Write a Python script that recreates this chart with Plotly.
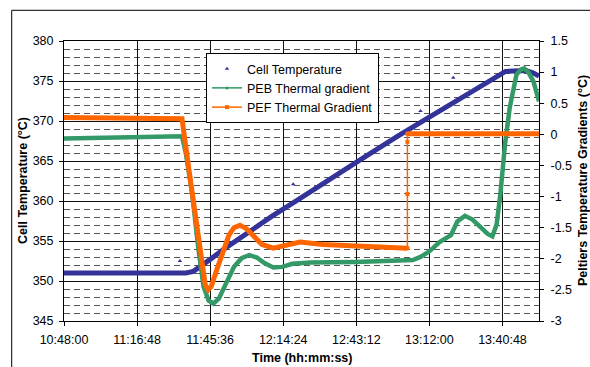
import pandas as pd
import plotly.graph_objects as go

DAY = "2000-01-01 "

# ---- data ----
cell_time = ["10:48:00", "11:20:00", "11:36:00", "11:39:00", "11:42:00", "11:45:36",
             "11:52:00", "12:00:00", "12:10:00", "12:20:00", "12:30:00", "12:43:00",
             "13:00:00", "13:12:00", "13:25:00", "13:38:00", "13:42:00", "13:50:00",
             "13:53:00", "13:55:12"]
cell_temp = [351.0, 351.0, 351.0, 351.2, 351.8, 352.7,
             354.2, 356.0, 358.1, 360.1, 362.2, 364.8,
             368.2, 370.5, 373.1, 375.6, 376.2, 376.3,
             376.0, 375.6]

cell_out_time = ["11:33:40", "12:18:20", "13:08:30", "13:21:25"]
cell_out_temp = [352.5, 362.1, 371.25, 375.4]

peb_time = ["10:48:00", "11:10:00", "11:34:30", "11:36:00", "11:38:30", "11:41:00",
            "11:43:00", "11:45:00", "11:46:50", "11:49:00", "11:52:00", "11:55:00",
            "11:58:00", "12:01:00", "12:04:00", "12:07:00", "12:10:30", "12:14:00",
            "12:18:00", "12:25:00", "12:43:00", "13:00:00", "13:05:30", "13:08:30",
            "13:12:00", "13:16:00", "13:19:00", "13:20:30", "13:23:00", "13:26:00",
            "13:29:00", "13:32:00", "13:35:00", "13:36:50", "13:38:30", "13:40:00",
            "13:41:50", "13:43:40", "13:46:20", "13:48:00", "13:49:20", "13:51:00",
            "13:53:00", "13:55:12"]
peb_val = [-0.065, -0.05, -0.03, -0.3, -0.95, -1.85,
           -2.45, -2.67, -2.72, -2.64, -2.38, -2.13,
           -1.99, -1.94, -1.98, -2.07, -2.14, -2.13,
           -2.08, -2.06, -2.05, -2.04, -2.02, -1.97,
           -1.88, -1.73, -1.66, -1.62, -1.40, -1.31,
           -1.37, -1.49, -1.60, -1.64, -1.45, -0.95,
           -0.15, 0.43, 0.96, 1.04, 1.06, 1.00,
           0.85, 0.53]

pef_time = ["10:48:00", "11:10:00", "11:34:30", "11:37:00", "11:40:00", "11:42:20",
            "11:43:40", "11:44:50", "11:46:00", "11:48:00", "11:50:00", "11:53:00",
            "11:55:00", "11:57:20", "12:00:00", "12:03:00", "12:06:00", "12:10:30",
            "12:15:00", "12:19:00", "12:21:00", "12:30:00", "12:43:00", "13:03:20",
            None, "13:03:20", "13:55:12"]
pef_val = [0.27, 0.26, 0.25, -0.5, -1.35, -2.1,
           -2.42, -2.50, -2.45, -2.2, -1.95, -1.62,
           -1.50, -1.46, -1.52, -1.66, -1.77, -1.83,
           -1.79, -1.74, -1.73, -1.77, -1.80, -1.83,
           None, 0.01, 0.01]

pef_step_time = ["13:03:20", "13:03:20", "13:03:20", "13:03:20"]
pef_step_val = [-1.83, -0.96, -0.12, 0.01]

x_start, x_end = "10:48:00", "13:55:12"
left_range = [345, 380]
right_range = [-3, 1.5]
right_tick_vals = [1.5, 1, 0.5, 0, -0.5, -1, -1.5, -2, -2.5, -3]
right_tick_text = ["1.5", "1", "0.5", "0", "-0.5", "-1", "-1.5", "-2", "-2.5", "-3"]


def to_dt(ts):
    return [None if t is None else pd.Timestamp(DAY + t) for t in ts]


BLUE = "#333399"
GREEN = "#339966"
ORANGE = "#FF6600"
FONT = "Liberation Sans, Arial, sans-serif"
FS = 12.5

fig = go.Figure()

# Cell temperature (left axis)
fig.add_trace(go.Scatter(x=to_dt(cell_time), y=cell_temp, mode="lines",
                         line=dict(color=BLUE, width=5), showlegend=False,
                         yaxis="y"))
fig.add_trace(go.Scatter(x=to_dt(cell_out_time), y=cell_out_temp, mode="markers",
                         marker=dict(symbol="triangle-up", size=4, color=BLUE),
                         name="Cell Temperature", legendrank=1, yaxis="y"))

# PEB (right axis)
fig.add_trace(go.Scatter(x=to_dt(peb_time), y=peb_val, mode="lines",
                         line=dict(color=GREEN, width=4.5), showlegend=False,
                         yaxis="y2"))
fig.add_trace(go.Scatter(x=[None], y=[None], mode="lines+markers",
                         line=dict(color=GREEN, width=1.5),
                         marker=dict(symbol="circle", size=3, color=GREEN),
                         name="PEB Thermal gradient", legendrank=2, yaxis="y2"))

# PEF (right axis)
fig.add_trace(go.Scatter(x=to_dt(pef_time), y=pef_val, mode="lines",
                         line=dict(color=ORANGE, width=5), showlegend=False,
                         connectgaps=False, yaxis="y2"))
fig.add_trace(go.Scatter(x=to_dt(pef_step_time), y=pef_step_val, mode="lines+markers",
                         line=dict(color=ORANGE, width=1.5),
                         marker=dict(symbol="square", size=4, color=ORANGE),
                         name="PEF Thermal Gradient", legendrank=3, yaxis="y2"))

fig.update_layout(
    width=590, height=367,
    margin=dict(l=64, r=51, t=41, b=46, autoexpand=False),
    paper_bgcolor="white", plot_bgcolor="white",
    font=dict(family=FONT, size=FS, color="black"),
    xaxis=dict(
        type="date",
        range=[DAY + x_start, DAY + x_end],
        tick0=DAY + x_start, dtick=1728000, tickformat="%H:%M:%S",
        showgrid=True, gridcolor="#111", gridwidth=1.3,
        showline=True, linecolor="black", linewidth=1, mirror=True,
        ticks="outside", ticklen=4, tickcolor="black", ticklabelstandoff=3,
        tickfont=dict(size=FS), zeroline=False,
    ),
    yaxis=dict(
        range=left_range, dtick=5, tick0=345,
        showgrid=True, gridcolor="#111", gridwidth=1.3,
        minor=dict(dtick=1, showgrid=True, gridcolor="#555", gridwidth=1,
                   griddash="6px,4px"),
        showline=True, linecolor="black", linewidth=1,
        ticks="outside", ticklen=4, tickcolor="black", ticklabelstandoff=3,
        tickfont=dict(size=FS), zeroline=False,
    ),
    yaxis2=dict(
        range=right_range, overlaying="y", side="right",
        tickvals=right_tick_vals, ticktext=right_tick_text,
        showgrid=False, zeroline=False,
        showline=True, linecolor="black", linewidth=1,
        ticks="outside", ticklen=4, tickcolor="black", ticklabelstandoff=4,
        tickfont=dict(size=FS),
    ),
    legend=dict(
        x=(379 - 64) / 475, xanchor="right",
        y=(321 - 53) / 280, yanchor="top",
        bgcolor="white", bordercolor="black", borderwidth=1,
        font=dict(size=FS), tracegroupgap=0, itemwidth=30,
    ),
    showlegend=True,
)

fig.add_annotation(text="<b>Cell Temperature (°C)</b>", xref="paper", yref="paper",
                   x=(23 - 64) / 475, y=0.5, textangle=-90, showarrow=False,
                   xanchor="center", yanchor="middle", font=dict(size=FS))
fig.add_annotation(text="<b>Peltiers Temperature Gradients (°C)</b>", xref="paper",
                   yref="paper", x=(583 - 64) / 475, y=0.5, textangle=-90,
                   showarrow=False, xanchor="center", yanchor="middle",
                   font=dict(size=FS))
fig.add_annotation(text="<b>Time (hh:mm:ss)</b>", xref="paper", yref="paper",
                   x=0.5, y=(321 - 358) / 280, showarrow=False,
                   xanchor="center", yanchor="middle", font=dict(size=FS))

# chart-area border (top and left edges visible in the reference)
bx = (11.7 - 64) / 475
by = (321 - 10.3) / 280
fig.add_shape(type="line", xref="paper", yref="paper", x0=bx, y0=by, x1=1.2, y1=by,
              line=dict(color="black", width=1))
fig.add_shape(type="line", xref="paper", yref="paper", x0=bx, y0=by, x1=bx, y1=-0.3,
              line=dict(color="black", width=1))

fig.write_html("out.html",
               config={"displayModeBar": False},
               post_script="document.body.style.margin='0';"
                           "document.body.style.overflow='hidden';")
